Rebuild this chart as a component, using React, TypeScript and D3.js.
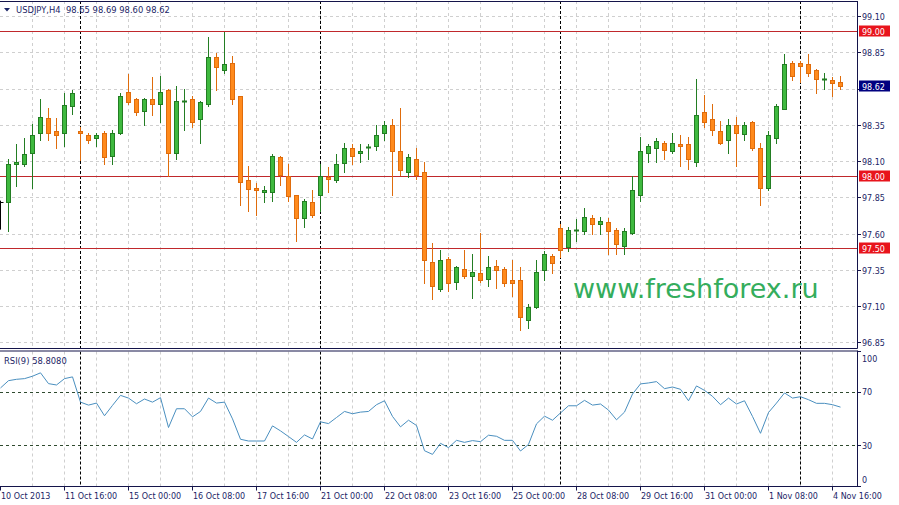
import React from "react";
import * as d3 from "d3";

// ---- Data (USDJPY, H4) ----
const symbolTitle = "USDJPY,H4  98.65 98.69 98.60 98.62";
const rsiTitle = "RSI(9) 58.8080";
const watermark = "www.freshforex.ru";

const opens = [
  97.70, 97.82, 98.08, 98.08, 98.16, 98.30, 98.40, 98.31, 98.30, 98.48,
  98.31, 98.28, 98.26, 98.30, 98.14, 98.30, 98.58, 98.53, 98.45, 98.53,
  98.50, 98.59, 98.16, 98.51, 98.53, 98.39, 98.50, 98.82, 98.73, 98.78,
  98.55, 97.97, 97.92, 97.89, 97.89, 98.13, 98.00, 97.87, 97.71, 97.82,
  97.87, 97.99, 97.97, 98.09, 98.19, 98.16, 98.19, 98.21, 98.30, 98.35,
  98.17, 98.03, 98.12, 98.03, 97.41, 97.22, 97.43, 97.27, 97.36, 97.31,
  97.33, 97.29, 97.38, 97.36, 97.28, 97.28, 97.01, 97.10, 97.35, 97.45,
  97.64, 97.51, 97.62, 97.62, 97.71, 97.67, 97.68, 97.63, 97.52, 97.61,
  97.87, 98.16, 98.19, 98.23, 98.17, 98.22, 98.22, 98.10, 98.44, 98.39,
  98.31, 98.25, 98.35, 98.29, 98.37, 98.19, 97.92, 98.26, 98.46, 98.78,
  98.78, 98.77, 98.73, 98.66, 98.66, 98.65,
];
const highs = [
  97.83, 98.12, 98.22, 98.26, 98.36, 98.53, 98.47, 98.40, 98.57, 98.59,
  98.34, 98.30, 98.30, 98.31, 98.32, 98.57, 98.70, 98.54, 98.54, 98.68,
  98.69, 98.60, 98.62, 98.60, 98.55, 98.52, 98.96, 98.85, 98.99, 98.83,
  98.55, 98.07, 97.95, 97.93, 98.15, 98.14, 98.08, 97.87, 97.84, 97.90,
  98.08, 98.06, 98.15, 98.23, 98.22, 98.22, 98.22, 98.35, 98.38, 98.39,
  98.47, 98.15, 98.19, 98.10, 97.54, 97.49, 97.44, 97.38, 97.49, 97.46,
  97.61, 97.45, 97.42, 97.37, 97.42, 97.37, 97.12, 97.42, 97.48, 97.46,
  97.67, 97.65, 97.70, 97.78, 97.73, 97.72, 97.71, 97.64, 97.64, 98.00,
  98.27, 98.22, 98.26, 98.24, 98.30, 98.28, 98.27, 98.67, 98.56, 98.50,
  98.38, 98.39, 98.41, 98.37, 98.38, 98.23, 98.31, 98.50, 98.84, 98.79,
  98.79, 98.84, 98.74, 98.71, 98.68, 98.69,
];
const lows = [
  97.63, 97.62, 97.93, 98.07, 97.92, 98.25, 98.25, 98.19, 98.21, 98.43,
  98.11, 98.23, 98.21, 98.08, 98.08, 98.29, 98.50, 98.42, 98.35, 98.42,
  98.37, 98.00, 98.12, 98.32, 98.34, 98.23, 98.48, 98.59, 98.71, 98.50,
  97.80, 97.76, 97.73, 97.82, 97.83, 97.94, 97.83, 97.55, 97.65, 97.72,
  97.76, 97.89, 97.96, 98.03, 98.08, 98.10, 98.12, 98.18, 98.25, 97.87,
  98.01, 97.99, 97.98, 97.26, 97.15, 97.21, 97.21, 97.22, 97.30, 97.16,
  97.27, 97.24, 97.23, 97.24, 97.17, 96.94, 96.95, 97.09, 97.28, 97.33,
  97.44, 97.48, 97.55, 97.60, 97.60, 97.60, 97.46, 97.46, 97.46, 97.60,
  97.83, 98.10, 98.10, 98.12, 98.16, 98.07, 98.05, 98.07, 98.34, 98.28,
  98.22, 98.16, 98.07, 98.25, 98.18, 97.80, 97.90, 98.23, 98.46, 98.66,
  98.65, 98.69, 98.57, 98.60, 98.55, 98.60,
];
const closes = [
  97.82, 98.08, 98.10, 98.15, 98.28, 98.41, 98.30, 98.28, 98.49, 98.57,
  98.30, 98.25, 98.28, 98.13, 98.30, 98.55, 98.51, 98.44, 98.53, 98.50,
  98.58, 98.16, 98.52, 98.52, 98.37, 98.51, 98.82, 98.75, 98.77, 98.53,
  97.96, 97.91, 97.90, 97.90, 98.14, 98.01, 97.86, 97.71, 97.83, 97.73,
  98.00, 97.98, 98.08, 98.19, 98.14, 98.17, 98.20, 98.28, 98.35, 98.17,
  98.04, 98.13, 98.01, 97.42, 97.24, 97.42, 97.26, 97.37, 97.31, 97.34,
  97.28, 97.37, 97.35, 97.26, 97.26, 97.03, 97.10, 97.34, 97.46, 97.40,
  97.49, 97.63, 97.63, 97.72, 97.67, 97.69, 97.62, 97.53, 97.62, 97.90,
  98.17, 98.21, 98.24, 98.18, 98.23, 98.21, 98.12, 98.42, 98.37, 98.32,
  98.23, 98.35, 98.30, 98.35, 98.19, 97.92, 98.28, 98.48, 98.77, 98.69,
  98.76, 98.71, 98.67, 98.67, 98.64, 98.62,
];
const rsiValues = [
  73.0, 78.4, 79.4, 79.9, 81.7, 84.2, 76.2, 75.2, 79.9, 81.2,
  62.5, 60.3, 61.8, 52.4, 60.1, 67.5, 65.5, 61.3, 64.8, 62.5,
  65.8, 43.7, 57.6, 57.6, 51.6, 55.6, 65.5, 61.8, 62.5, 50.1,
  35.0, 33.7, 33.7, 33.7, 44.9, 41.2, 37.0, 32.7, 38.2, 35.2,
  47.9, 46.6, 51.1, 55.6, 53.9, 55.1, 55.6, 60.6, 63.5, 51.9,
  44.2, 49.1, 45.2, 26.5, 23.8, 32.0, 28.8, 34.2, 32.7, 34.0,
  33.2, 38.0, 37.2, 34.2, 34.2, 26.3, 31.2, 46.4, 52.1, 49.1,
  54.5, 59.8, 59.8, 63.8, 60.3, 61.1, 56.6, 49.4, 55.1, 68.5,
  76.0, 76.7, 77.7, 72.5, 73.7, 72.0, 63.5, 74.5, 71.2, 66.8,
  60.6, 65.5, 61.1, 63.5, 51.9, 39.4, 54.8, 61.8, 69.3, 65.5,
  66.5, 64.3, 61.6, 61.6, 60.6, 58.8,
];
const timeLabels = [
  "10 Oct 2013", "11 Oct 16:00", "15 Oct 00:00", "16 Oct 08:00", "17 Oct 16:00",
  "21 Oct 00:00", "22 Oct 08:00", "23 Oct 16:00", "25 Oct 00:00", "28 Oct 08:00",
  "29 Oct 16:00", "31 Oct 00:00", "1 Nov 08:00", "4 Nov 16:00",
];
const timeLabelStep = 8; // bars between time labels
const gridStep = 4; // bars between vertical grid lines
const weekSeparators = [10, 40, 70, 100]; // bar indices (Monday 00:00)
const priceTicks = [99.10, 98.85, 98.60, 98.35, 98.10, 97.85, 97.60, 97.35, 97.10, 96.85];
const levelLines = [99.00, 98.00, 97.50];
const currentPrice = 98.62;
const rsiLevels = [70, 30];
const rsiTicks = [100, 70, 30, 0];

// ---- Layout ----
const W = 899;
const H = 505;
const PANE_R = 857;
const MAIN_TOP = 1;
const MAIN_BOT = 348;
const RSI_TOP = 351.5;
const RSI_BOT = 486.5;
const FONT = "'DejaVu Sans', Verdana, sans-serif";
const TXT = "#1b2566";
const FRAME = "#14144a";

const cr = (v: number) => Math.round(v - 0.5) + 0.5;

export default function App() {
  const n = closes.length;
  const x = d3.scaleLinear().domain([0, 1]).range([0.5, 8.5]);
  const y = d3.scaleLinear().domain([99.0, 98.0]).range([31, 176]);
  const yR = d3.scaleLinear().domain([0, 100]).range([RSI_BOT, RSI_TOP]);

  const gridIdx = d3.range(gridStep, n, gridStep);
  const rsiLine = d3
    .line<number>()
    .x((_, i) => x(i))
    .y((d) => yR(d));

  const bullFill = "#3fb93f";
  const bullStroke = "#237d23";
  const bearFill = "#ff8a1c";
  const bearStroke = "#df6c0c";

  return (
    <svg
      width={W}
      height={H}
      viewBox={`0 0 ${W} ${H}`}
      style={{ position: "absolute", left: 0, top: 0, background: "#fff" }}
      fontFamily={FONT}
    >
      <defs>
        <clipPath id="mainClip">
          <rect x={0} y={MAIN_TOP} width={PANE_R} height={MAIN_BOT - MAIN_TOP} />
        </clipPath>
        <clipPath id="rsiClip">
          <rect x={0} y={RSI_TOP} width={PANE_R} height={RSI_BOT - RSI_TOP} />
        </clipPath>
      </defs>
      <rect x={0} y={0} width={W} height={H} fill="#fff" />

      {/* ---------- main pane ---------- */}
      <g clipPath="url(#mainClip)">
        {priceTicks.map((p) => (
          <line key={"hg" + p} x1={0} x2={PANE_R} y1={cr(y(p))} y2={cr(y(p))}
            stroke="#cfcfcf" strokeDasharray="3,3" />
        ))}
        {gridIdx.map((i) => (
          <line key={"vg" + i} x1={cr(x(i))} x2={cr(x(i))} y1={MAIN_TOP} y2={MAIN_BOT}
            stroke="#cfcfcf" strokeDasharray="3,3" />
        ))}
        {weekSeparators.map((i) => (
          <line key={"ws" + i} x1={cr(x(i))} x2={cr(x(i))} y1={MAIN_TOP} y2={MAIN_BOT}
            stroke="#000" strokeDasharray="3,2" />
        ))}
        {levelLines.map((p) => (
          <line key={"lv" + p} x1={0} x2={PANE_R} y1={cr(y(p))} y2={cr(y(p))}
            stroke="#c0282c" />
        ))}
        <text x={573} y={298} fontSize={27} fill="#34ad5c" fontFamily={FONT}>
          {watermark}
        </text>
        {closes.map((c, i) => {
          const o = opens[i];
          const hi = highs[i];
          const lo = lows[i];
          const cx = cr(x(i));
          if (i === 0) {
            return (
              <g key={"c" + i} stroke="#000">
                <line x1={cx} x2={cx} y1={y(hi)} y2={y(lo)} />
                <line x1={cx} x2={cx + 3} y1={cr(y(c))} y2={cr(y(c))} />
              </g>
            );
          }
          const bull = c >= o;
          const top = Math.round(y(Math.max(o, c)));
          const bot = Math.round(y(Math.min(o, c)));
          const stroke = bull ? bullStroke : bearStroke;
          const fill = bull ? bullFill : bearFill;
          return (
            <g key={"c" + i}>
              <line x1={cx} x2={cx} y1={Math.round(y(hi))} y2={Math.round(y(lo)) + 1} stroke={stroke} />
              {bot - top >= 2 ? (
                <rect x={cx - 2} y={top + 0.5} width={4} height={bot - top - 1 + 1}
                  fill={fill} stroke={stroke} />
              ) : (
                <rect x={cx - 2.5} y={top - 0.5} width={5} height={2} fill={stroke} />
              )}
            </g>
          );
        })}
      </g>
      {/* main pane frame */}
      <line x1={0} x2={PANE_R + 0.5} y1={MAIN_TOP + 0.5} y2={MAIN_TOP + 0.5} stroke={FRAME} />
      <line x1={PANE_R + 0.5} x2={PANE_R + 0.5} y1={MAIN_TOP} y2={MAIN_BOT + 0.5} stroke={FRAME} />
      <line x1={0} x2={PANE_R + 0.5} y1={MAIN_BOT + 0.5} y2={MAIN_BOT + 0.5} stroke={FRAME} />

      {/* price axis */}
      {priceTicks.map((p) => {
        const yy = cr(y(p));
        const hidden = Math.abs(y(p) - y(currentPrice)) < 8;
        return (
          <g key={"pt" + p}>
            <line x1={PANE_R + 0.5} x2={PANE_R + 4} y1={yy} y2={yy} stroke={FRAME} />
            {!hidden && (
              <text x={862} y={yy + 3} fontSize={8} fill={TXT}>{p.toFixed(2)}</text>
            )}
          </g>
        );
      })}
      {levelLines.map((p) => {
        const yy = cr(y(p));
        return (
          <g key={"ll" + p}>
            <rect x={859} y={yy - 6} width={31} height={11} fill="#e8141c" />
            <text x={862} y={yy + 3} fontSize={8} fill="#fff">{p.toFixed(2)}</text>
          </g>
        );
      })}
      <rect x={859} y={cr(y(currentPrice)) - 6} width={31} height={11} fill="#000080" />
      <text x={862} y={cr(y(currentPrice)) + 3} fontSize={8} fill="#fff">
        {currentPrice.toFixed(2)}
      </text>

      {/* header */}
      <path d="M4,8 L10,8 L7,11.5 Z" fill={TXT} />
      <text x={16} y={13} fontSize={8.4} fill={TXT} style={{ whiteSpace: "pre" }}>
        {symbolTitle}
      </text>

      {/* ---------- RSI pane ---------- */}
      <g clipPath="url(#rsiClip)">
        {gridIdx.map((i) => (
          <line key={"rvg" + i} x1={cr(x(i))} x2={cr(x(i))} y1={RSI_TOP} y2={RSI_BOT}
            stroke="#cfcfcf" strokeDasharray="3,3" />
        ))}
        {weekSeparators.map((i) => (
          <line key={"rws" + i} x1={cr(x(i))} x2={cr(x(i))} y1={RSI_TOP} y2={RSI_BOT}
            stroke="#000" strokeDasharray="3,2" />
        ))}
        {rsiLevels.map((v) => (
          <line key={"rl" + v} x1={0} x2={PANE_R} y1={cr(yR(v))} y2={cr(yR(v))}
            stroke="#2f4a2f" strokeDasharray="3,3" />
        ))}
        <path d={rsiLine(rsiValues) || ""} fill="none" stroke="#4a8fbf" strokeWidth={1} />
      </g>
      <text x={4} y={364} fontSize={8.4} fill={TXT}>{rsiTitle}</text>
      <line x1={0} x2={PANE_R + 0.5} y1={RSI_TOP - 0.5} y2={RSI_TOP - 0.5} stroke={FRAME} />
      <line x1={PANE_R + 0.5} x2={PANE_R + 0.5} y1={RSI_TOP - 1} y2={RSI_BOT + 0.5} stroke={FRAME} />
      <line x1={0} x2={PANE_R + 0.5} y1={RSI_BOT} y2={RSI_BOT} stroke={FRAME} />
      {rsiTicks.map((v) => {
        const yy = cr(yR(v));
        const ly = Math.min(Math.max(yR(v), RSI_TOP + 7), RSI_BOT - 7);
        return (
          <g key={"rt" + v}>
            <line x1={PANE_R + 0.5} x2={PANE_R + 4} y1={yy} y2={yy} stroke={FRAME} />
            <text x={862} y={ly + 3} fontSize={8} fill={TXT}>{String(v)}</text>
          </g>
        );
      })}

      {/* time axis */}
      {timeLabels.map((t, j) => {
        const xi = cr(x(j * timeLabelStep));
        return (
          <g key={"tl" + j}>
            <line x1={xi} x2={xi} y1={RSI_BOT} y2={RSI_BOT + 4} stroke={FRAME} />
            <text x={xi + 0.5} y={499} fontSize={8} fill={TXT}>{t}</text>
          </g>
        );
      })}
    </svg>
  );
}
